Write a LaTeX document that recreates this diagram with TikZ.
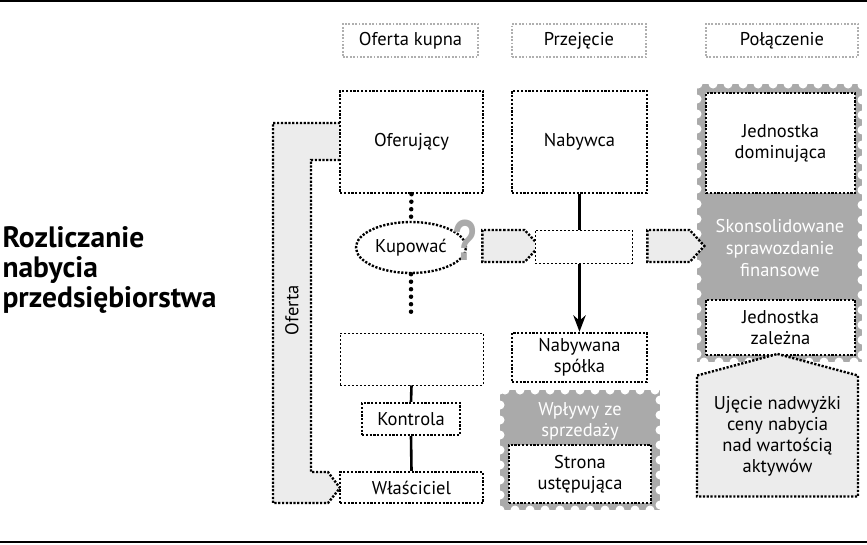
\documentclass[tikz,border=0pt]{standalone}
\usepackage{fontspec}
\setmainfont{PT Sans}
\newfontfamily\qmfont{Liberation Sans}
\usetikzlibrary{positioning, arrows.meta, shapes.geometric, shapes.symbols}
\definecolor{StampGray}{RGB}{170,170,170}
\definecolor{PaleGray}{RGB}{236,236,236}
\definecolor{HeadGray}{RGB}{175,175,175}
\tikzset{
  dotted line/.style={line width=2.4pt, dash pattern=on 2.2pt off 1.6pt},
  dotbox/.style={draw, dotted line, fill=white,
    inner sep=2pt, align=center, font=\fontsize{18.5}{21}\selectfont},
  thinbox/.style={draw, line width=1pt, dash pattern=on 2pt off 2pt, fill=white},
  hdr/.style={draw=HeadGray, line width=1.8pt, dash pattern=on 1.8pt off 1.6pt,
    minimum height=33pt, font=\fontsize{18.5}{21}\selectfont},
  sig/.style={signal, signal to=east, signal pointer angle=95, draw, fill=PaleGray,
    dotted line, minimum width=57pt, minimum height=32pt, inner sep=0pt},
  stamp/.style={fill=StampGray},
  perf/.style={draw=white, line width=9pt, dash pattern=on 0pt off 15pt, line cap=round},
  bigdots/.style={line width=4.5pt, dash pattern=on 0pt off 7.5pt, line cap=round},
  solidline/.style={line width=2.6pt},
}
\begin{document}
\begin{tikzpicture}[x=1pt, y=-1pt, >=Stealth]
  \useasboundingbox (0,0) rectangle (867,544);
  \draw[line width=2pt] (0,1) -- (867,1);
  \draw[line width=2pt] (0,542) -- (867,542);

  % title
  \node[anchor=west, align=left, font=\fontsize{29.5}{30}\selectfont\bfseries] (title) at (-1,270)
    {Rozliczanie\\nabycia\\przedsiębiorstwa};

  % column headers
  \node[hdr, minimum width=135pt] (hOK) at (410.5,40.5) {Oferta kupna};
  \node[hdr, minimum width=134pt] (hPR) at (579,40.5) {Przejęcie};
  \node[hdr, minimum width=152pt] (hPO) at (782,40.5) {Połączenie};

  % offer bracket
  \draw[fill=PaleGray, dotted line]
    (340,123) -- (273,123) -- (273,503) -- (328,503) -- (340,488) -- (328,472)
    -- (311,472) -- (311,160) -- (340,160);
  \node[rotate=90, font=\fontsize{18.5}{21}\selectfont] (oferta) at (292,310) {Oferta};

  % stamps
  \path[stamp] (697,84) rectangle (862,362);
  \draw[perf] (697,84) rectangle (862,362);
  \path[stamp] (500,390) rectangle (660,510);
  \draw[perf] (500,390) rectangle (660,510);

  % left column
  \node[dotbox, minimum width=143pt, minimum height=102pt] (ofer) at (411.5,142) {Oferujący};
  \node[ellipse, dotbox, minimum width=110pt, minimum height=51pt] (kup) at (411,247.5) {Kupować};
  \node[anchor=base, inner sep=0pt, text=StampGray, font=\qmfont\fontsize{58}{58}\selectfont\bfseries]
    (qm) at (465,260) {\scalebox{0.72}[1]{?}};
  \coordinate (kupend) at (411,314);
  \node[thinbox, minimum width=143pt, minimum height=52pt] (ebox1) at (411.5,359) {};
  \node[dotbox, minimum width=98pt, minimum height=32pt] (kont) at (411,419) {Kontrola};
  \node[dotbox, minimum width=143pt, minimum height=31pt] (wlas) at (411.5,487.5) {Właściciel};

  % middle column
  \node[dotbox, minimum width=135pt, minimum height=102pt] (nab) at (579.5,142) {Nabywca};
  \node[sig] (sigA) at (503.5,246) {};
  \node[thinbox, minimum width=97pt, minimum height=33pt] (ebox2) at (583.5,246.5) {};
  \node[sig] (sigB) at (668.5,246) {};
  \node[dotbox, minimum width=135pt, minimum height=49pt] (nabsp) at (579.5,357.5) {Nabywana\\spółka};
  \node[text=white, align=center, font=\fontsize{18.5}{21}\selectfont] (wplyw) at (580,421) {Wpływy ze\\sprzedaży};
  \node[dotbox, minimum width=142pt, minimum height=58pt] (stron) at (580,474) {Strona\\ustępująca};

  % right column
  \node[dotbox, minimum width=149pt, minimum height=100pt] (jdom) at (780.5,143) {Jednostka\\dominująca};
  \node[text=white, align=center, font=\fontsize{18.5}{22}\selectfont] (skons) at (780,248)
    {Skonsolidowane\\sprawozdanie\\finansowe};
  \node[dotbox, minimum width=149pt, minimum height=55pt] (jzal) at (780.5,327.5) {Jednostka\\zależna};
  \node[dotbox, signal, signal to=north, signal pointer angle=150, fill=PaleGray,
    minimum width=161pt, minimum height=138pt, inner sep=0pt] (uj) at (777.5,436)
    {Ujęcie nadwyżki\\ceny nabycia\\nad wartością\\aktywów};

  % connectors
  \draw[bigdots] (ofer.south) -- (kup.north);
  \draw[bigdots] (kup.south) -- (kupend);
  \draw[solidline] (ebox1.south) -- (kont.north);
  \draw[solidline] (kont.south) -- (wlas.north);
  \draw[line width=3pt] (nab.south) -- (nab.south |- ebox2.north);
  \draw[->, line width=3pt] (nab.south |- ebox2.south) -- (nabsp.north);
\end{tikzpicture}
\end{document}
